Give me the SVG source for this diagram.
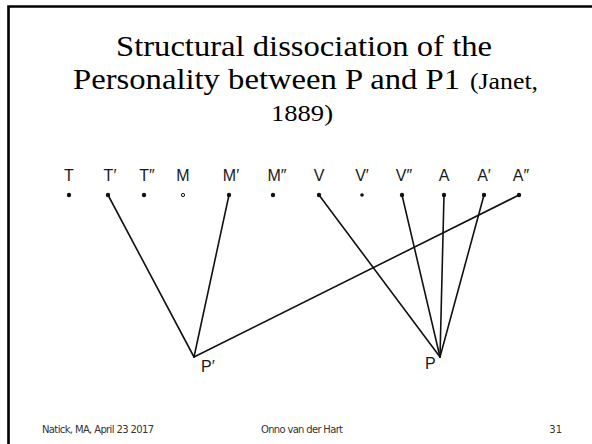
<svg xmlns="http://www.w3.org/2000/svg" width="592" height="444" viewBox="0 0 592 444">
<style>
.title{font-family:"Liberation Serif",serif;fill:#000}
.lbl{font-family:"Liberation Sans",Arial,sans-serif;font-size:16px;fill:#1a1a1a;text-anchor:middle}
.foot{font-family:"DejaVu Sans","Liberation Sans",sans-serif;font-size:10px;fill:#333}
.dot{fill:#111}
.edge{stroke:#111;stroke-width:1.6;fill:none;stroke-linecap:round}
</style>
<rect width="592" height="444" fill="#fff"/>
<path d="M8.5,444 V6.5 H592" fill="none" stroke="#000" stroke-width="2.6"/>
<g id="title">
<text class="title" x="116" y="56" font-size="29" textLength="376" lengthAdjust="spacingAndGlyphs">Structural dissociation of the</text>
<text class="title" x="73" y="89" font-size="29" textLength="387" lengthAdjust="spacingAndGlyphs">Personality between P and P1</text>
<text class="title" x="470" y="89" font-size="24" textLength="68" lengthAdjust="spacingAndGlyphs">(Janet,</text>
<text class="title" x="271" y="121" font-size="24" textLength="62" lengthAdjust="spacingAndGlyphs">1889)</text>
</g>
<g id="connectors">
<line class="edge" x1="108" y1="195" x2="194" y2="357"/>
<line class="edge" x1="229" y1="195" x2="194" y2="357"/>
<line class="edge" x1="519" y1="195" x2="194" y2="357"/>
<line class="edge" x1="319" y1="195" x2="440" y2="357"/>
<line class="edge" x1="402" y1="195" x2="440" y2="357"/>
<line class="edge" x1="444" y1="195" x2="440" y2="357"/>
<line class="edge" x1="484" y1="195" x2="440" y2="357"/>
</g>
<g id="node-T"><text class="lbl" x="69" y="181">T</text><circle class="dot" cx="69" cy="195" r="2.2"/></g>
<g id="node-T1"><text class="lbl" x="110" y="181">T′</text><circle class="dot" cx="108" cy="195" r="2.2"/></g>
<g id="node-T2"><text class="lbl" x="147" y="181">T″</text><circle class="dot" cx="144" cy="195" r="2.2"/></g>
<g id="node-M"><text class="lbl" x="183" y="181">M</text><circle cx="183" cy="195" r="1.6" fill="#fff" stroke="#111" stroke-width="1"/></g>
<g id="node-M1"><text class="lbl" x="231" y="181">M′</text><circle class="dot" cx="229" cy="195" r="2.2"/></g>
<g id="node-M2"><text class="lbl" x="277" y="181">M″</text><circle class="dot" cx="273" cy="195" r="2.2"/></g>
<g id="node-V"><text class="lbl" x="319" y="181">V</text><circle class="dot" cx="319" cy="195" r="2.2"/></g>
<g id="node-V1"><text class="lbl" x="362" y="181">V′</text><circle class="dot" cx="362" cy="195" r="1.8"/></g>
<g id="node-V2"><text class="lbl" x="404" y="181">V″</text><circle class="dot" cx="402" cy="195" r="2.2"/></g>
<g id="node-A"><text class="lbl" x="444" y="181">A</text><circle class="dot" cx="444" cy="195" r="2.2"/></g>
<g id="node-A1"><text class="lbl" x="484" y="181">A′</text><circle class="dot" cx="484" cy="195" r="2.2"/></g>
<g id="node-A2"><text class="lbl" x="521" y="181">A″</text><circle class="dot" cx="519" cy="195" r="2.2"/></g>
<g id="node-P1"><text class="lbl" x="201" y="372" font-size="15" style="text-anchor:start">P′</text></g>
<g id="node-P"><text class="lbl" x="425" y="369" font-size="15" style="text-anchor:start">P</text></g>
<g id="footer">
<text class="foot" x="42" y="433" textLength="112">Natick, MA, April 23 2017</text>
<text class="foot" x="302" y="433" text-anchor="middle" textLength="82">Onno van der Hart</text>
<text class="foot" x="562" y="433" text-anchor="end">31</text>
</g>
</svg>
